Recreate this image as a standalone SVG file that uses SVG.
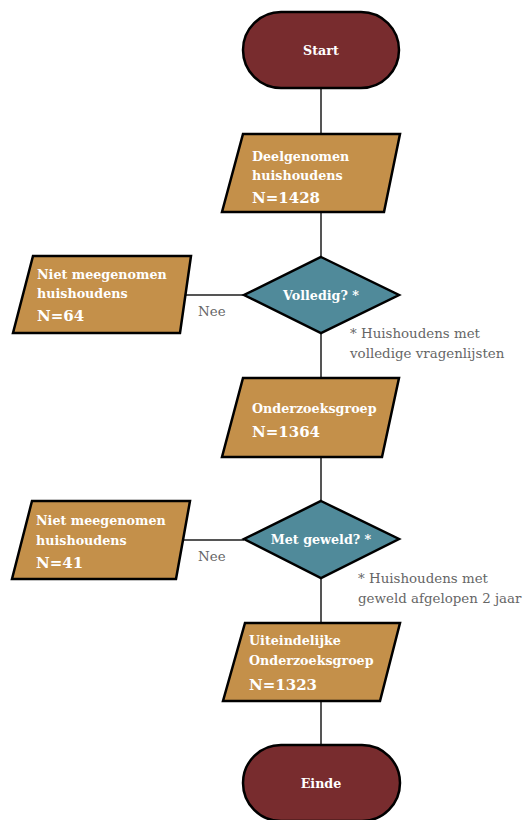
<svg xmlns="http://www.w3.org/2000/svg" width="526" height="820" viewBox="0 0 526 820">
<style>
.term{fill:#782C2E;stroke:#000;stroke-width:2.5}
.io{fill:#C4904A;stroke:#000;stroke-width:2.5}
.dec{fill:#508A9A;stroke:#000;stroke-width:2.5}
.conn line{stroke:#555;stroke-width:2}
.t{font-family:"DejaVu Serif","Liberation Serif",serif;font-weight:bold;font-size:12.7px;fill:#fff}
.n{font-size:15px}
.c{text-anchor:middle}
.g{font-family:"DejaVu Serif","Liberation Serif",serif;font-size:13.4px;fill:#666}
</style>
<rect width="526" height="820" fill="#fff"/>
<g class="conn">
<line x1="321" y1="88" x2="321" y2="134"/>
<line x1="321" y1="212" x2="321" y2="257"/>
<line x1="321" y1="333" x2="321" y2="378"/>
<line x1="321" y1="457" x2="321" y2="501"/>
<line x1="321" y1="578" x2="321" y2="623"/>
<line x1="321" y1="701" x2="321" y2="745"/>
<line x1="184" y1="295" x2="244" y2="295"/>
<line x1="182" y1="540" x2="244" y2="540"/>
<text class="g" x="198" y="316">Nee</text>
<text class="g" x="198" y="561">Nee</text>
</g>
<g id="start">
<rect class="term" x="243" y="12" width="156" height="76" rx="38"/>
<text class="t c" x="321" y="55">Start</text>
</g>
<g id="deelgenomen">
<polygon class="io" points="243,134 400,134 384,212 222,212"/>
<text class="t" x="252" y="161">Deelgenomen</text>
<text class="t" x="252" y="180">huishoudens</text>
<text class="t n" x="252" y="203">N=1428</text>
</g>
<g id="volledig">
<polygon class="dec" points="321,257 399,295 321,333 244,295"/>
<text class="t c" x="321" y="300">Volledig? *</text>
</g>
<g id="niet1">
<polygon class="io" points="33,256 191,256 180,333 13,333"/>
<text class="t" x="37" y="279">Niet meegenomen</text>
<text class="t" x="37" y="298">huishoudens</text>
<text class="t n" x="37" y="321">N=64</text>
</g>
<g id="note1">
<text class="g" x="350" y="338">* Huishoudens met</text>
<text class="g" x="350" y="358">volledige vragenlijsten</text>
</g>
<g id="onderzoeksgroep">
<polygon class="io" points="243,378 399,378 382,457 222,457"/>
<text class="t" x="252" y="413">Onderzoeksgroep</text>
<text class="t n" x="252" y="437">N=1364</text>
</g>
<g id="geweld">
<polygon class="dec" points="321,501 399,539 321,578 244,539"/>
<text class="t c" x="321" y="544">Met geweld? *</text>
</g>
<g id="niet2">
<polygon class="io" points="32,501 190,501 176,579 12,579"/>
<text class="t" x="36" y="525">Niet meegenomen</text>
<text class="t" x="36" y="545">huishoudens</text>
<text class="t n" x="36" y="568">N=41</text>
</g>
<g id="note2">
<text class="g" x="358" y="583">* Huishoudens met</text>
<text class="g" x="358" y="603">geweld afgelopen 2 jaar</text>
</g>
<g id="uiteindelijk">
<polygon class="io" points="245,623 400,623 380,701 223,701"/>
<text class="t" x="249" y="645">Uiteindelijke</text>
<text class="t" x="249" y="665">Onderzoeksgroep</text>
<text class="t n" x="249" y="690">N=1323</text>
</g>
<g id="einde">
<rect class="term" x="243" y="745" width="157" height="76" rx="38"/>
<text class="t c" x="321" y="788">Einde</text>
</g>
</svg>
